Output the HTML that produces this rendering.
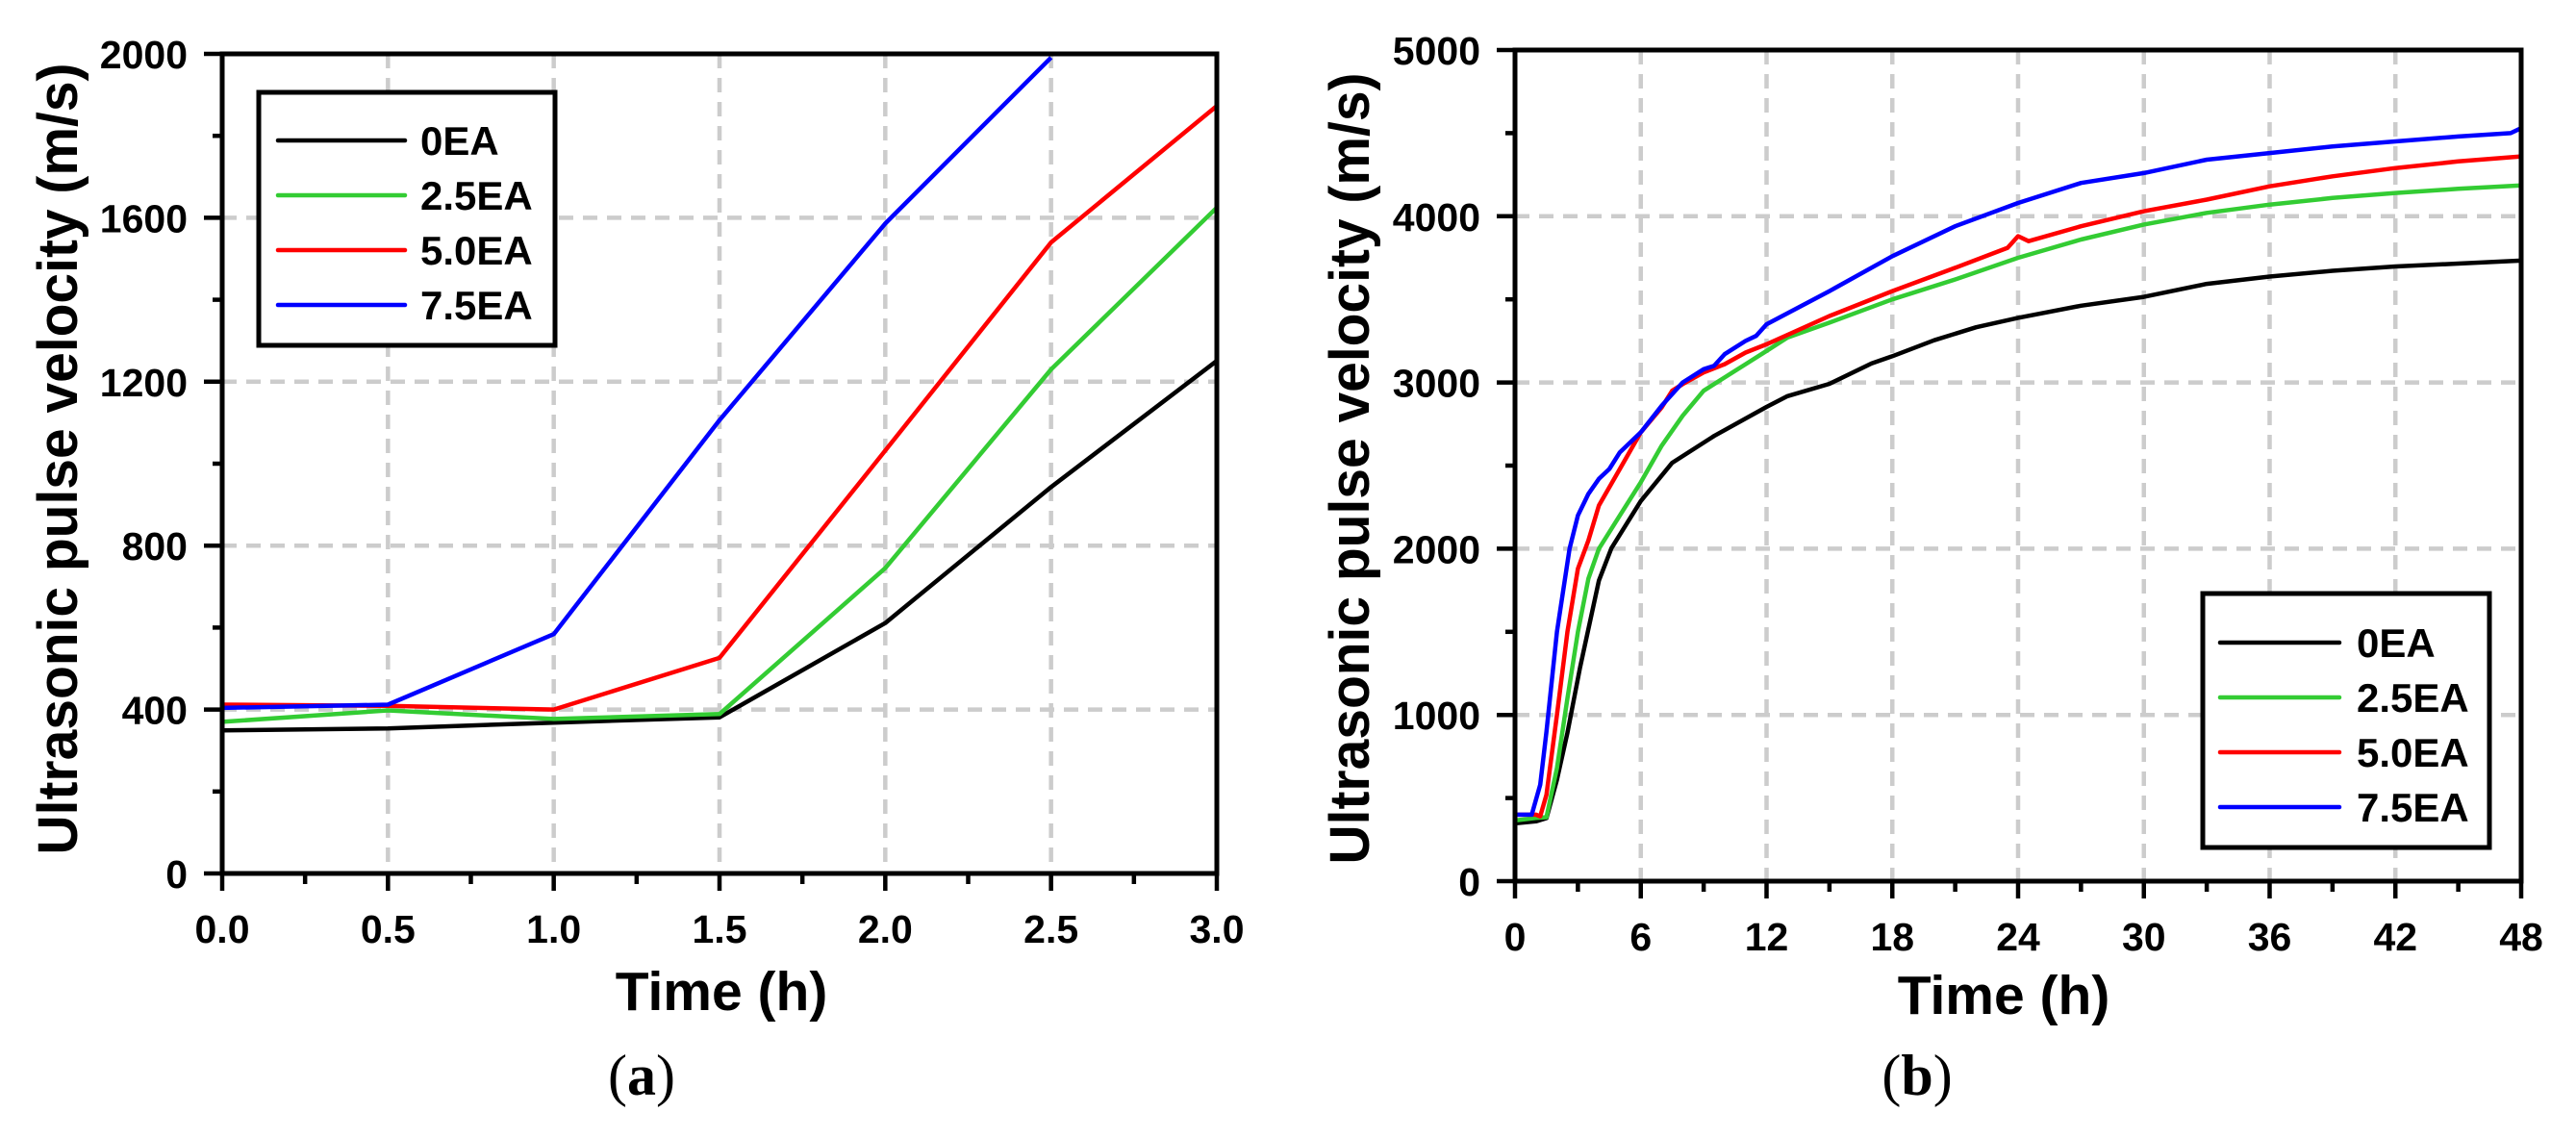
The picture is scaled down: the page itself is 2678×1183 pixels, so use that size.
<!DOCTYPE html>
<html><head><meta charset="utf-8"><style>
html,body{margin:0;padding:0;background:#fff;}
svg{display:block;font-family:"Liberation Sans",Arial,sans-serif;}
</style></head><body>
<svg id="fig" width="2678" height="1183" viewBox="0 0 2678 1183" xmlns="http://www.w3.org/2000/svg">
<g id="chartA"></g>
<g id="chartB"></g>
<text x="667" y="1138" font-family="Liberation Serif,serif" font-size="60" text-anchor="middle">(<tspan font-weight="bold">a</tspan>)</text>
<text x="1993" y="1138" font-family="Liberation Serif,serif" font-size="60" text-anchor="middle">(<tspan font-weight="bold">b</tspan>)</text>
</svg>
<script>
// ---- Chart A data ----
const timesA = [0, 0.5, 1.0, 1.5, 2.0, 2.5, 3.0];
const a0EA  = [349, 354, 368, 381, 611, 943, 1251];
const a25EA = [370, 398, 377, 389, 745, 1230, 1625];
const a50EA = [412, 409, 400, 526, 1032, 1540, 1873];
const a75EA = [404, 412, 584, 1106, 1586, 1991];
const xTicksA = ["0.0","0.5","1.0","1.5","2.0","2.5","3.0"];
const yTicksA = [0, 400, 800, 1200, 1600, 2000];
// ---- Chart B data ----
const tB0  = [0,1,1.5,2,2.5,3.1,4,4.6,6,7.5,9.5,12,13,15,17,18,20,22,24,27,30,33,36,39,42,45,48];
const b0EA = [348,360,379,610,893,1285,1808,2003,2287,2517,2678,2853,2918,2992,3114,3158,3254,3332,3389,3462,3515,3593,3637,3672,3698,3715,3733];
const tB25 = [0,1,1.5,2,2.5,3,3.5,4,5,6,7,8,9,10,11,12,13,15,18,21,24,27,30,33,36,39,42,45,48];
const b25EA= [365,380,385,680,1100,1500,1820,2000,2200,2400,2620,2800,2950,3030,3110,3190,3270,3360,3500,3620,3750,3860,3950,4020,4070,4110,4140,4165,4185];
const tB50 = [0,1,1.2,1.5,2,2.5,3,3.5,4,5,6,7,7.5,8,9,10,11,12,15,18,21,23.5,24,24.5,27,30,33,36,39,42,45,48];
const b50EA= [400,400,390,520,1000,1500,1880,2050,2260,2480,2700,2850,2950,2990,3060,3110,3180,3230,3400,3550,3690,3810,3880,3850,3940,4030,4100,4180,4240,4290,4330,4360];
const tB75 = [0,0.8,1.2,1.5,2,2.6,3,3.5,4,4.5,5,6,7,8,9,9.5,10,11,11.5,12,15,18,21,24,27,30,33,36,39,42,45,47.5,48];
const b75EA= [400,400,580,900,1500,2000,2200,2330,2420,2480,2580,2700,2860,3000,3080,3100,3170,3250,3280,3350,3550,3760,3940,4080,4200,4260,4340,4380,4420,4450,4480,4500,4530];
const xTicksB = [0,6,12,18,24,30,36,42,48];
const yTicksB = [0,1000,2000,3000,4000,5000];
const seriesNames = ["0EA","2.5EA","5.0EA","7.5EA"];
const seriesColors = ["#000000","#33cc33","#ff0000","#0000ff"];

const NS="http://www.w3.org/2000/svg";
function mk(parent,tag,attrs){const e=document.createElementNS(NS,tag);for(const k in attrs)e.setAttribute(k,attrs[k]);parent.appendChild(e);return e;}

function drawChart(g,cfg){
  const {L,R,T,B,xmin,xmax,ymax,xTicks,xLabels,xMinorStep,yTicks,yMinorStep,series,legend,titleX,titleY,yTitleX,yTitleY,yTitleLen}=cfg;
  const sx=v=>L+(v-xmin)/(xmax-xmin)*(R-L);
  const sy=v=>B-(v/ymax)*(B-T);
  xTicks.forEach(v=>{ if(v===xmin||v===xmax) return;
    const l=mk(g,'line',{x1:sx(v),x2:sx(v),y1:T,y2:B,stroke:'#cccccc','stroke-width':4.5,'stroke-dasharray':'15 10'});
    
    });
  yTicks.forEach(v=>{ if(v===0||v===ymax) return;
    const l=mk(g,'line',{x1:L,x2:R,y1:sy(v),y2:sy(v),stroke:'#cccccc','stroke-width':4.5,'stroke-dasharray':'15 10'});
    
    });
  series.forEach((s,i)=>{
    const pts=s.x.map((t,j)=>sx(t).toFixed(1)+','+sy(s.y[j]).toFixed(1)).join(' ');
    const p=mk(g,'polyline',{points:pts,fill:'none',stroke:seriesColors[i],'stroke-width':4.5,'stroke-linejoin':'round'});
    
    
  });
  const fr=mk(g,'rect',{x:L,y:T,width:R-L,height:B-T,fill:'none',stroke:'#000','stroke-width':5});
  
  
  for(let v=xmin; v<=xmax+1e-9; v+=xMinorStep){
    const major=xTicks.some(t=>Math.abs(t-v)<1e-6);
    mk(g,'line',{x1:sx(v),x2:sx(v),y1:B,y2:B+(major?18:11),stroke:'#000','stroke-width':4.5});
  }
  for(let v=0; v<=ymax+1e-9; v+=yMinorStep){
    const major=yTicks.some(t=>Math.abs(t-v)<1e-6);
    mk(g,'line',{x1:L,x2:L-(major?19:10),y1:sy(v),y2:sy(v),stroke:'#000','stroke-width':4.5});
  }
  xTicks.forEach((v,i)=>{
    const t=mk(g,'text',{x:sx(v),y:B+72,'font-size':41,'font-weight':'bold','text-anchor':'middle'});
    t.textContent=xLabels[i];
    
    });
  yTicks.forEach(v=>{
    const t=mk(g,'text',{x:L-36,y:sy(v)+15,'font-size':41,'font-weight':'bold','text-anchor':'end'});
    t.textContent=String(v);
    
    });
  const xt=mk(g,'text',{x:titleX,y:titleY,'font-size':57,'font-weight':'bold','text-anchor':'middle'});
  xt.textContent='Time (h)';
  
  
  const yt=mk(g,'text',{x:0,y:0,'font-size':58,'font-weight':'bold','text-anchor':'middle',textLength:yTitleLen,lengthAdjust:'spacingAndGlyphs',transform:`translate(${yTitleX},${yTitleY}) rotate(-90)`});
  yt.textContent='Ultrasonic pulse velocity (m/s)';
  
  
  const lg=mk(g,'g',{});
  
  
  mk(lg,'rect',{x:legend.x1,y:legend.y1,width:legend.x2-legend.x1,height:legend.y2-legend.y1,fill:'#fff',stroke:'#000','stroke-width':5});
  seriesNames.forEach((n,i)=>{
    const y=legend.ys[i];
    const e=mk(lg,'g',{});
    
    
    mk(e,'line',{x1:legend.lx1,x2:legend.lx2,y1:y,y2:y,stroke:seriesColors[i],'stroke-width':4.5,'stroke-linecap':'round'});
    const t=mk(e,'text',{x:legend.tx,y:y+15,'font-size':42,'font-weight':'bold'});
    t.textContent=n;
  });
}

drawChart(document.getElementById('chartA'),{
  L:231,R:1265,T:56,B:908,xmin:0,xmax:3,ymax:2000,
  xTicks:timesA,xLabels:xTicksA,xMinorStep:0.25,yTicks:yTicksA,yMinorStep:200,
  series:[{x:timesA,y:a0EA},{x:timesA,y:a25EA},{x:timesA,y:a50EA},{x:timesA.slice(0,a75EA.length),y:a75EA}],
  legend:{x1:269,x2:577,y1:96,y2:359,ys:[146,203,260,317],lx1:289,lx2:421,tx:437},
  titleX:750,titleY:1050,yTitleX:80,yTitleY:477,yTitleLen:823
});
drawChart(document.getElementById('chartB'),{
  L:1575,R:2621,T:52,B:916,xmin:0,xmax:48,ymax:5000,
  xTicks:xTicksB,xLabels:xTicksB.map(String),xMinorStep:3,yTicks:yTicksB,yMinorStep:500,
  series:[{x:tB0,y:b0EA},{x:tB25,y:b25EA},{x:tB50,y:b50EA},{x:tB75,y:b75EA}],
  legend:{x1:2290,x2:2588,y1:617,y2:881,ys:[668,725,782,839],lx1:2308,lx2:2432,tx:2450},
  titleX:2083,titleY:1054,yTitleX:1423,yTitleY:487,yTitleLen:823
});
</script>
</body></html>
